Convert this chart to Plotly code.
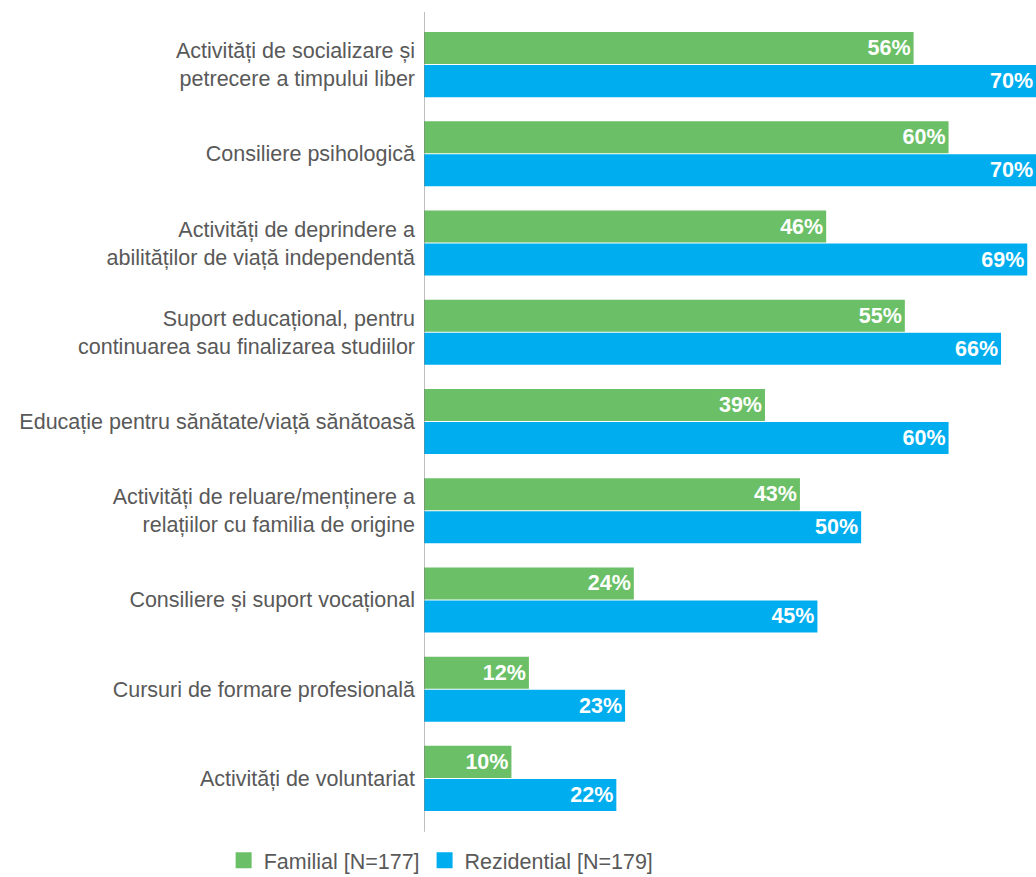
import plotly.graph_objects as go

categorii = [
    "Activități de socializare și<br>petrecere a timpului liber",
    "Consiliere psihologică",
    "Activități de deprindere a<br>abilităților de viață independentă",
    "Suport educațional, pentru<br>continuarea sau finalizarea studiilor",
    "Educație pentru sănătate/viață sănătoasă",
    "Activități de reluare/menținere a<br>relațiilor cu familia de origine",
    "Consiliere și suport vocațional",
    "Cursuri de formare profesională",
    "Activități de voluntariat",
]
familial = [56, 60, 46, 55, 39, 43, 24, 12, 10]
rezidential = [70, 70, 69, 66, 60, 50, 45, 23, 22]

VERDE = "#6BBF67"
ALBASTRU = "#00AEEF"
FONT = "Liberation Sans"

fig = go.Figure()
for nume, valori, culoare in [("Familial [N=177]", familial, VERDE),
                              ("Rezidential [N=179]", rezidential, ALBASTRU)]:
    fig.add_trace(go.Bar(
        y=categorii, x=valori, orientation="h", name=nume, showlegend=False,
        marker=dict(color=culoare, line_width=0),
        text=[f"{v}%" for v in valori], textposition="inside", insidetextanchor="end",
        textfont=dict(color="white", size=21.5, family=FONT, weight="bold"),
    ))
    # intrare de legendă cu pătrat mai mare
    fig.add_trace(go.Scatter(
        x=[None], y=[None], mode="markers", name=nume,
        marker=dict(symbol="square", size=16, color=culoare),
    ))

fig.update_layout(
    width=1036, height=877,
    margin=dict(l=424, r=0, t=20, b=54, autoexpand=False),
    plot_bgcolor="white", paper_bgcolor="white",
    barmode="group", bargap=0.26, bargroupgap=0.03,
    font=dict(family=FONT, size=21.5, color="#595959"),
    legend=dict(orientation="h", x=0.028, xanchor="center",
                y=-0.021, yanchor="top", itemwidth=30, tracegroupgap=0,
                font=dict(size=21.5, color="#595959")),
    uniformtext=dict(minsize=21, mode="show"),
    shapes=[dict(type="line", xref="x", yref="paper", x0=0, x1=0, y0=-0.011, y1=1.01,
                 line=dict(color="#7f7f7f", width=1))],
)
fig.update_xaxes(range=[0, 70], visible=False)
fig.update_yaxes(autorange="reversed", showline=False, ticks="", ticklabelstandoff=8,
                 automargin=False)

fig.write_html("out.html", config=dict(displayModeBar=False),
               post_script="document.body.style.margin='0';")
